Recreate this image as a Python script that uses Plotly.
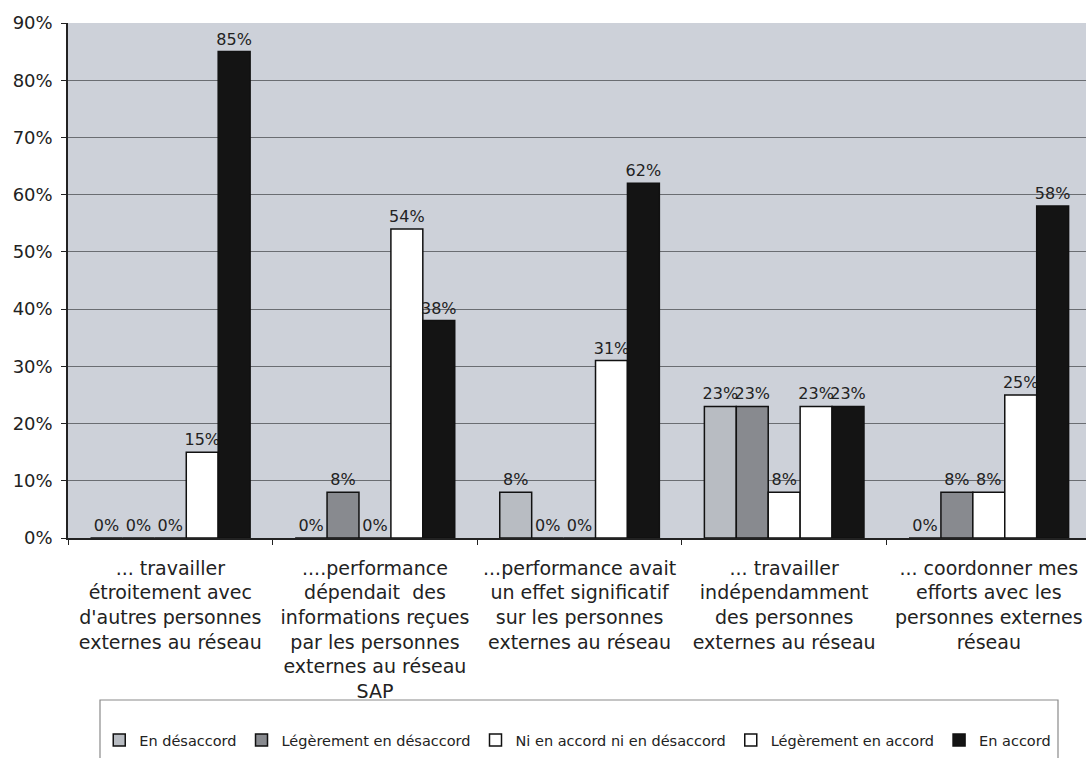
import plotly.graph_objects as go

# Survey statements (x categories)
categories = [
    "... travailler<br>étroitement avec<br>d'autres personnes<br>externes au réseau",
    "....performance<br>dépendait\u00a0 des<br>informations reçues<br>par les personnes<br>externes au réseau<br>SAP",
    "...performance avait<br>un effet significatif<br>sur les personnes<br>externes au réseau",
    "... travailler<br>indépendamment<br>des personnes<br>externes au réseau",
    "... coordonner mes<br>efforts avec les<br>personnes externes<br>réseau",
]

# Response shares per answer level (fractions)
en_desaccord = [0.00, 0.00, 0.08, 0.23, 0.00]
leg_desaccord = [0.00, 0.08, 0.00, 0.23, 0.08]
ni_ni = [0.00, 0.00, 0.00, 0.08, 0.08]
leg_accord = [0.15, 0.54, 0.31, 0.23, 0.25]
en_accord = [0.85, 0.38, 0.62, 0.23, 0.58]

series = [
    ("En désaccord", en_desaccord, "#b8bcc2"),
    ("Légèrement en désaccord", leg_desaccord, "#888a8f"),
    ("Ni en accord ni en désaccord", ni_ni, "#ffffff"),
    ("Légèrement en accord", leg_accord, "#ffffff"),
    ("En accord", en_accord, "#141414"),
]

FONT = "DejaVu Sans"

fig = go.Figure()
for name, vals, color in series:
    fig.add_trace(go.Bar(
        name=name,
        x=categories,
        y=vals,
        marker=dict(color=color, line=dict(color="#111111", width=1.5)),
        texttemplate="%{y:.0%}",
        textposition="outside",
        textfont=dict(family=FONT, size=16, color="#222222"),
        constraintext="none",
        cliponaxis=False,
    ))

# plot-area pixel frame: left 68, top 23, bottom 538, right 1086
L, T, B, R = 68, 23, 538, 1086
H = 758
ph = B - T
pw = R - L

def px_to_paper_x(px):
    return (px - L) / pw

def px_to_paper_y(py):
    return (B - py) / ph

fig.update_layout(
    width=1086,
    height=H,
    margin=dict(l=L, r=0, t=T, b=H - B, pad=0),
    paper_bgcolor="white",
    plot_bgcolor="#cdd1d9",
    barmode="group",
    bargap=0.22,
    bargroupgap=0.0,
    font=dict(family=FONT, color="#222222"),
    showlegend=True,
    legend=dict(
        orientation="h",
        traceorder="normal",
        xref="container",
        yref="container",
        x=0.532,
        xanchor="center",
        y=1 - 740 / H,
        yanchor="middle",
        bgcolor="rgba(0,0,0,0)",
        borderwidth=0,
        itemwidth=30,
        font=dict(family=FONT, size=14.5, color="#222222"),
    ),
    xaxis=dict(
        range=[-0.5, 4.475],
        tickson="boundaries",
        ticks="outside",
        ticklen=5,
        tickcolor="#222222",
        showline=True,
        linecolor="#222222",
        linewidth=1.5,
        showgrid=False,
        tickangle=0,
        tickfont=dict(family=FONT, size=19, color="#222222"),
        ticklabelstandoff=12,
    ),
    yaxis=dict(
        range=[0, 0.9],
        dtick=0.1,
        tickformat=".0%",
        ticks="outside",
        ticklen=5,
        tickcolor="#222222",
        showline=True,
        linecolor="#222222",
        linewidth=1.5,
        showgrid=True,
        gridcolor="#6a6d72",
        gridwidth=1,
        zeroline=False,
        tickfont=dict(family=FONT, size=18, color="#222222"),
        ticklabelstandoff=5,
    ),
    shapes=[
        # legend frame, running off the bottom edge
        dict(
            type="rect",
            xref="paper", yref="paper",
            x0=px_to_paper_x(100), x1=px_to_paper_x(1058),
            y0=px_to_paper_y(700), y1=px_to_paper_y(780),
            line=dict(color="#8a8a8a", width=1.2),
            fillcolor="white",
            layer="below",
        ),
    ],
)

fig.write_html("out.html")
